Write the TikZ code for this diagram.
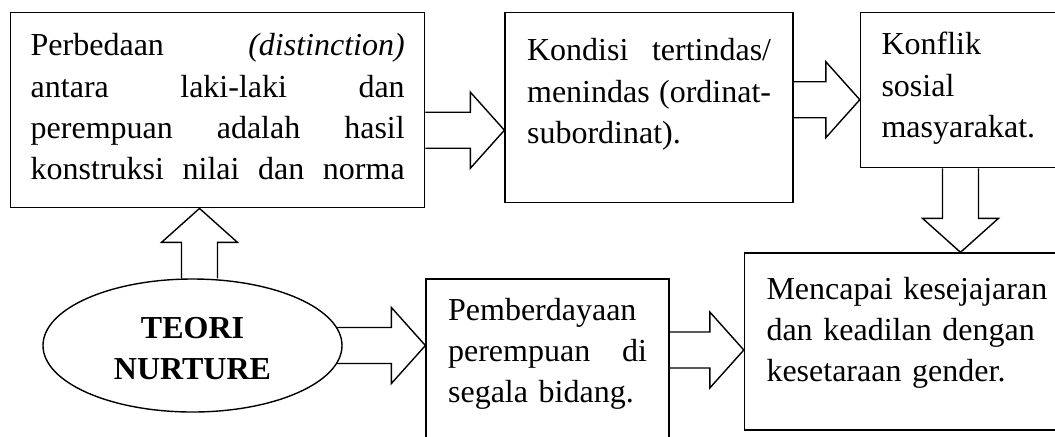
\documentclass[tikz,border=0pt]{standalone}
\usepackage{fontspec}
\setmainfont{Liberation Serif}
\usetikzlibrary{positioning, calc, shapes.geometric}
\tikzset{
every node/.style={font=\fontsize{16pt}{20.7pt}\selectfont},
box/.style={draw, line width=0.7pt, anchor=north west, inner xsep=11pt, inner ysep=0pt, align=left},
teori/.style={draw, ellipse, line width=0.7pt, minimum width=149.5pt, minimum height=66.5pt, inner sep=0pt,
  align=center, text width=80pt, text height=11pt, text depth=18.5pt,
  font=\fontsize{16pt}{20.7pt}\selectfont\bfseries},
bigarrow/.style={draw, line width=0.7pt},
}
% justified line of a given width
\newcommand{\jline}[2]{\makebox[#1][s]{\spaceskip=0pt\xspaceskip=0pt #2}}
% block arrow pointing right: start, tip
\newcommand{\harrow}[2]{\draw[bigarrow] let \p1=(#1), \p2=(#2) in
  (\x1,\y1+9pt) -- (\x2-17pt,\y1+9pt) -- (\x2-17pt,\y1+19pt) -- (\x2,\y1)
  -- (\x2-17pt,\y1-19pt) -- (\x2-17pt,\y1-9pt) -- (\x1,\y1-9pt);}
% block arrow up or down: start, tip
\newcommand{\varrow}[2]{\draw[bigarrow] let \p1=(#1), \p2=(#2), \p3=($(\x1,\y2)!17pt!(\x1,\y1)$) in
  (\x1-9pt,\y1) -- (\x1-9pt,\y3) -- (\x1-19pt,\y3) -- (\x1,\y2)
  -- (\x1+19pt,\y3) -- (\x1+9pt,\y3) -- (\x1+9pt,\y1);}

\begin{document}
\begin{tikzpicture}[x=0.5pt, y=-0.5pt]
\useasboundingbox (0,0) rectangle (1055,436);
% top row
    \node[box, inner xsep=10pt, text width=187pt, text height=21.5pt, text depth=76pt] (b1) at (10,12)
      {\jline{187pt}{Perbedaan \textit{(distinction)}}\\ \jline{187pt}{antara laki-laki dan}\\
       \jline{187pt}{perempuan adalah hasil}\\ \jline{187pt}{konstruksi nilai dan norma}};
    \node[box, right=39.5pt of b1.north east, anchor=north west, text width=122pt, text height=24pt, text depth=71pt] (b2)
      {\jline{122pt}{Kondisi tertindas/}\\ \jline{122pt}{menindas (ordinat-}\\ subordinat).};
    \node[box, right=33pt of b2.north east, anchor=north west, inner xsep=10.5pt, text width=90pt, text height=21pt, text depth=56.5pt] (b3)
      {Konflik\\ sosial\\ masyarakat.};
% bottom row
    \node[teori] (ell) at (192.5,345.5) {TEORI\\ NURTURE};
    \node[box, text width=99.5pt, text height=20.5pt, text depth=75pt] (b4) at (b1.south east |- ell.north)
      {Pemberdayaan\\ \jline{99.5pt}{perempuan di}\\ segala bidang.};
    \node[box, right=37pt of b4.north east, anchor=north west, yshift=13pt, text width=145pt, text height=23pt, text depth=65.5pt] (b5)
      {Mencapai kesejajaran\\ dan keadilan dengan\\ kesetaraan gender.};
% block arrows
    \harrow{$(b1.east)+(0,20)$}{b2.west}
    \harrow{$(b2.east)+(0,-8)$}{b3.west}
    \varrow{$(b3.south)+(-11,0)$}{b5.north}
    \varrow{$(ell.north)+(7,0)$}{b1.south}
    \harrow{$(ell.east)+(-6,0)$}{b4.west}
    \harrow{$(b4.east |- b5.west)+(0,8.5)$}{b5.west}
\end{tikzpicture}
\end{document}
